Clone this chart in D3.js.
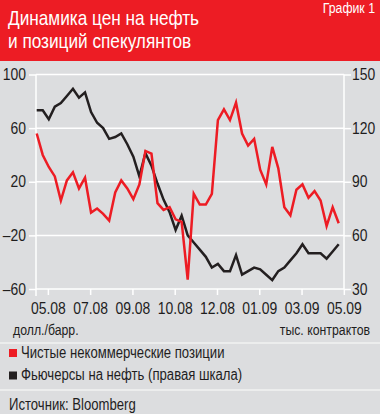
<!DOCTYPE html>
<html><head><meta charset="utf-8">
<script src="https://cdn.jsdelivr.net/npm/d3@7"></script>
<style>
html,body{margin:0;padding:0;background:#dcdddf;}
svg{display:block;}
text{font-family:'Liberation Sans',Arial,sans-serif;}
</style></head>
<body>
<svg id="c" width="380" height="414"></svg>
<script>
// Net non-commercial positions (left axis, thousand contracts)
const netPositions = [56,40,31,24,6,21,27,15,23,-3,0,-4,-9,12,21,15,7,18,
  43,41,4,-1,1,-8,-10,-53,11,3,3,11,66,74,66,79,56,
  47,52,29,18,46,30,1,-5,14,18,8,13,6,-13,1,-11];
// Oil futures, USD/bbl (right axis)
const oilFutures = [130,130,125,132,134,138,142,137,140,129,123,120,114,115,117,111,104,93,
  106,99,89,80,73,63,71,60,56,52,48,42,44,40,40,49,38,
  40,42,41,38,35,40,42,46,50,55,50,50,50,47,51,55];
const tickLabels = ["05.08","07.08","09.08","10.08","12.08","01.09","03.09","05.09"];
const tickWeeks = [1.85,8.85,15.85,22.85,29.85,36.85,43.85,50.85];
const leftTicks = [-60,-20,20,60,100];
const rightTicks = [30,60,90,120,150];
const titleLines = ["Динамика цен на нефть","и позиций спекулянтов"];
const legendItems = [
  {label:"Чистые некоммерческие позиции", color:"#ed1c24"},
  {label:"Фьючерсы на нефть (правая шкала)", color:"#231f20"}
];

const W=380,H=414;
const svg=d3.select("#c");
const RED="#ed1c24", BLACK="#231f20", BG="#dcdddf", INK="#1f1d1e";

// condense text horizontally (narrow typeface look)
function condense(sel,k){
  k=k||0.82;
  sel.each(function(){
    const t=d3.select(this);
    const xv=+(t.attr("x")||0);
    t.attr("x",xv/k).attr("transform",`scale(${k},1)`);
  });
}

svg.append("rect").attr("width",W).attr("height",H).attr("fill",BG);
svg.append("rect").attr("width",W).attr("height",61).attr("fill",RED);
svg.selectAll("text.title").data(titleLines).join("text").attr("class","title")
  .attr("x",8).attr("y",(d,i)=>25+i*23.5).attr("fill","#fff").attr("font-size",21).text(d=>d)
  .call(condense);
svg.append("text").attr("x",375).attr("y",12.5).attr("text-anchor","end")
  .attr("fill","#fff").attr("font-size",15).text("График 1").call(condense);

const x=d3.scaleLinear().domain([0,netPositions.length-1]).range([36.7,338.7]);
const yL=d3.scaleLinear().domain([-60,100]).range([289,74.5]);
const yR=d3.scaleLinear().domain([30,150]).range([289,74.5]);
const x0=36, x1=344;

// gridlines
svg.append("g").selectAll("line").data(leftTicks).join("line")
  .attr("x1",x0).attr("x2",x1).attr("y1",d=>yL(d)).attr("y2",d=>yL(d))
  .attr("stroke","#fff").attr("stroke-width",1.5);
// vertical axis lines
svg.append("line").attr("x1",x0).attr("x2",x0).attr("y1",74.5).attr("y2",296).attr("stroke","#fff").attr("stroke-width",1.5);
svg.append("line").attr("x1",x1).attr("x2",x1).attr("y1",74.5).attr("y2",289).attr("stroke","#fff").attr("stroke-width",1.5);

function styleAxis(g){
  g.select(".domain").remove();
  g.selectAll(".tick line").attr("stroke","#fff").attr("stroke-width",1.5);
  g.selectAll(".tick text").attr("fill",INK).attr("font-size",16)
    .style("font-family","'Liberation Sans',Arial,sans-serif");
}
const fmt=d=>d<0?"–"+Math.abs(d):String(d);
svg.append("g").attr("transform",`translate(${x0},0)`)
  .call(d3.axisLeft(yL).tickValues(leftTicks).tickSize(7).tickPadding(3).tickFormat(fmt))
  .call(styleAxis)
  .call(g=>g.selectAll(".tick text").call(condense,0.87));
svg.append("g").attr("transform",`translate(${x1},0)`)
  .call(d3.axisRight(yR).tickValues(rightTicks).tickSize(7).tickPadding(1).tickFormat(fmt))
  .call(styleAxis)
  .call(g=>g.selectAll(".tick text").call(condense,0.87));
const xa=svg.append("g").attr("transform","translate(0,289)")
  .call(d3.axisBottom(x).tickValues(tickWeeks).tickSize(6).tickFormat((d,i)=>tickLabels[i]))
  .call(styleAxis);
xa.selectAll(".tick text").attr("y",25).attr("dy",0).call(condense,0.87);

// lines
const lineL=d3.line().x((d,i)=>x(i)).y(d=>yL(d));
const lineR=d3.line().x((d,i)=>x(i)).y(d=>yR(d));
svg.append("path").datum(oilFutures).attr("d",lineR).attr("fill","none")
  .attr("stroke",BLACK).attr("stroke-width",2.5).attr("stroke-linejoin","miter");
svg.append("path").datum(netPositions).attr("d",lineL).attr("fill","none")
  .attr("stroke",RED).attr("stroke-width",2.5).attr("stroke-linejoin","miter");

// units
svg.append("text").attr("x",13).attr("y",335).attr("font-size",15).attr("fill",INK).text("долл./барр.").call(condense);
svg.append("text").attr("x",370).attr("y",335).attr("text-anchor","end").attr("font-size",15).attr("fill",INK).text("тыс. контрактов").call(condense);

// separators
svg.append("line").attr("x1",0).attr("x2",W).attr("y1",343).attr("y2",343).attr("stroke","#f2f2f2").attr("stroke-width",1.5);
svg.append("line").attr("x1",0).attr("x2",W).attr("y1",390).attr("y2",390).attr("stroke","#f2f2f2").attr("stroke-width",1.5);

// legend
const lg=svg.append("g").selectAll("g").data(legendItems).join("g")
  .attr("transform",(d,i)=>`translate(0,${i*22.5})`);
lg.append("rect").attr("x",9).attr("y",349).attr("width",8).attr("height",8).attr("fill",d=>d.color);
lg.append("text").attr("x",21).attr("y",358).attr("font-size",16).attr("fill",INK).text(d=>d.label).call(condense);

svg.append("text").attr("x",9).attr("y",410.5).attr("font-size",16).attr("fill",INK).text("Источник: Bloomberg").call(condense);
</script>
</body></html>
